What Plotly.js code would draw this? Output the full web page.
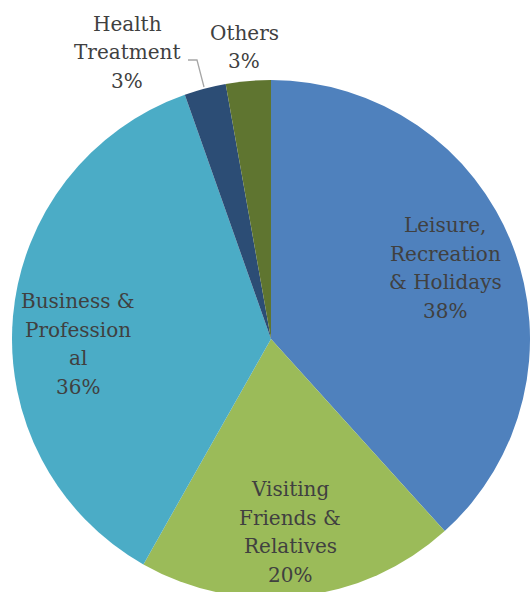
<!DOCTYPE html>
<html>
<head>
<meta charset="utf-8">
<script src="https://cdn.plot.ly/plotly-3.0.1.min.js"></script>
<style>
  html, body { margin: 0; padding: 0; overflow: hidden; background: #ffffff; }
  #graph { width: 542px; height: 600px; }
</style>
</head>
<body>
<div id="graph"></div>
<script>
// purpose of visit shares, clockwise from 12 o'clock
const categories = ['Leisure, Recreation & Holidays', 'Visiting Friends & Relatives', 'Business & Professional', 'Health Treatment', 'Others'];
const shares = [38.3, 19.9, 36.4, 2.6, 2.8];
const pct_labels = ['38%', '20%', '36%', '3%', '3%'];
const label_lines = [['Leisure,', 'Recreation', '& Holidays'], ['Visiting', 'Friends &', 'Relatives'], ['Business &', 'Profession', 'al'], ['Health', 'Treatment'], ['Others']];
const slice_colors = ['#4F81BD', '#9BBB59', '#4BACC6', '#2C4D75', '#5F7530'];

// label block centres in pixels (page coords)
const label_pos = [[445, 268], [290, 532], [78, 344], [127, 52], [244, 47]];
const line_gap = 28.5;

const plot_left = 12, plot_top = 80, plot_size = 518;

function px_to_paper(x, y) {
    return [(x - plot_left) / plot_size, 1 - (y - plot_top) / plot_size];
}

let trace = {
    type: 'pie',
    labels: categories,
    values: shares,
    sort: false,
    direction: 'clockwise',
    rotation: 0,
    textinfo: 'none',
    hoverinfo: 'label+percent',
    marker: { colors: slice_colors, line: { width: 0 } },
    showlegend: false
};

let annotations = [];
categories.forEach((cat, i) => {
    let lines = label_lines[i].concat([pct_labels[i]]);
    lines.forEach((line, j) => {
        let y = label_pos[i][1] + (j - (lines.length - 1) / 2) * line_gap;
        let [ax, ay] = px_to_paper(label_pos[i][0], y);
        annotations.push({
            xref: 'paper', yref: 'paper',
            x: ax, y: ay,
            xanchor: 'center', yanchor: 'middle',
            text: line,
            showarrow: false,
            font: { family: 'DejaVu Serif', size: 20, color: '#404040' }
        });
    });
});

// leader line for Health Treatment
let p1 = px_to_paper(188, 60), p2 = px_to_paper(197, 60), p3 = px_to_paper(204, 87);
let shapes = [{
    type: 'path',
    xref: 'paper', yref: 'paper',
    path: `M ${p1[0]} ${p1[1]} L ${p2[0]} ${p2[1]} L ${p3[0]} ${p3[1]}`,
    line: { color: '#A6A6A6', width: 1.3 }
}];

let layout = {
    width: 542,
    height: 598,
    margin: { l: plot_left, r: 542 - plot_left - plot_size, t: plot_top, b: 0 },
    paper_bgcolor: '#ffffff',
    annotations: annotations,
    shapes: shapes
};

Plotly.newPlot('graph', [trace], layout, { displayModeBar: false, staticPlot: true });
</script>
</body>
</html>
